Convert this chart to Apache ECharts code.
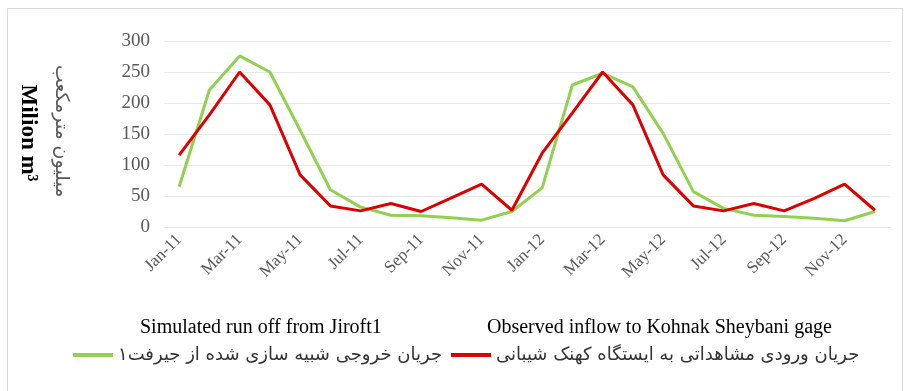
<!DOCTYPE html>
<html>
<head>
<meta charset="utf-8">
<script src="https://cdn.jsdelivr.net/npm/echarts@6/dist/echarts.min.js"></script>
<style>
  html, body { margin: 0; padding: 0; background: #ffffff; }
  #chart { width: 909px; height: 391px; }
</style>
</head>
<body>
<div id="chart"></div>
<script>
// Monthly inflow, Jan 2011 – Dec 2012 (million m³)
const months = [
  'Jan-11', 'Feb-11', 'Mar-11', 'Apr-11', 'May-11', 'Jun-11',
  'Jul-11', 'Aug-11', 'Sep-11', 'Oct-11', 'Nov-11', 'Dec-11',
  'Jan-12', 'Feb-12', 'Mar-12', 'Apr-12', 'May-12', 'Jun-12',
  'Jul-12', 'Aug-12', 'Sep-12', 'Oct-12', 'Nov-12', 'Dec-12'
];
const simulated = [65, 221, 276, 250, 156, 60, 32, 19, 18, 15, 11, 25,
                   63, 229, 248, 226, 151, 57, 30, 19, 17, 14, 10, 25];
const observed = [116, 181, 250, 197, 84, 34, 26, 38, 25, 47, 69, 27,
                  119, 184, 250, 197, 84, 34, 26, 38, 26, 46, 69, 27];

const simName = 'Simulated run off from Jiroft1';
const obsName = 'Observed inflow to Kohnak Sheybani gage';
const simNameFa = 'جریان خروجی شبیه سازی شده از جیرفت۱';
const obsNameFa = 'جریان ورودی مشاهداتی به ایستگاه کهنک شیبانی';
const yTitle = 'Milion m³';
const yTitleFa = 'میلیون مترمکعب';

const GREEN = '#92d050';
const RED = '#dc0000';
const SERIF = '"Liberation Serif", "DejaVu Serif", serif';
const FA_FONT = '"DejaVu Sans", sans-serif';

const chart = echarts.init(document.getElementById('chart'));

const legendBase = {
  orient: 'horizontal',
  top: 341,
  icon: 'rect',
  itemWidth: 40,
  itemHeight: 4,
  itemGap: 0,
  textStyle: { fontFamily: FA_FONT, fontSize: 18, color: '#333333' },
  formatter: name => (name === simName ? simNameFa : obsNameFa),
  selectedMode: false
};

chart.setOption({
  animation: false,
  backgroundColor: '#ffffff',
  grid: { left: 164, top: 41, width: 726, height: 186, containLabel: false },
  xAxis: {
    type: 'category',
    data: months,
    boundaryGap: true,
    axisLine: { show: true, lineStyle: { color: '#e4e4e4', width: 1 } },
    axisTick: { show: false },
    axisLabel: {
      interval: 1,
      rotate: 45,
      margin: 10,
      color: '#595959',
      fontFamily: SERIF,
      fontSize: 17
    }
  },
  yAxis: {
    type: 'value',
    min: 0,
    max: 300,
    interval: 50,
    axisLine: { show: false },
    axisTick: { show: false },
    axisLabel: {
      margin: 14,
      color: '#595959',
      fontFamily: SERIF,
      fontSize: 19
    },
    splitLine: { show: true, lineStyle: { color: '#e8e8e8', width: 1 } }
  },
  legend: [
    Object.assign({}, legendBase, { data: [simName], left: 68 }),
    Object.assign({}, legendBase, { data: [obsName], left: 446 })
  ],
  graphic: [
    {
      type: 'rect',
      shape: { x: 7.5, y: 8.5, width: 895, height: 400 },
      style: { fill: 'none', stroke: '#d9d9d9', lineWidth: 1 },
      silent: true
    },
    {
      type: 'text', x: 140, y: 328,
      style: { text: simName, font: '20px ' + SERIF, fill: '#000000',
               textAlign: 'left', textVerticalAlign: 'middle' }
    },
    {
      type: 'text', x: 487, y: 328,
      style: { text: obsName, font: '20px ' + SERIF, fill: '#000000',
               textAlign: 'left', textVerticalAlign: 'middle' }
    },
    {
      type: 'text', x: 28, y: 133, rotation: -Math.PI / 2,
      style: { text: yTitle, font: 'bold 23px ' + SERIF, fill: '#000000',
               textAlign: 'center', textVerticalAlign: 'middle' }
    },
    {
      type: 'text', x: 61, y: 131, rotation: -Math.PI / 2,
      style: { text: yTitleFa, font: '19px ' + FA_FONT, fill: '#595959',
               textAlign: 'center', textVerticalAlign: 'middle' }
    }
  ],
  series: [
    {
      name: simName,
      type: 'line',
      data: simulated,
      color: GREEN,
      showSymbol: false,
      symbol: 'none',
      lineStyle: { color: GREEN, width: 3 },
      z: 2
    },
    {
      name: obsName,
      type: 'line',
      data: observed,
      color: RED,
      showSymbol: false,
      symbol: 'none',
      lineStyle: { color: RED, width: 3 },
      z: 3
    }
  ]
});
</script>
</body>
</html>
